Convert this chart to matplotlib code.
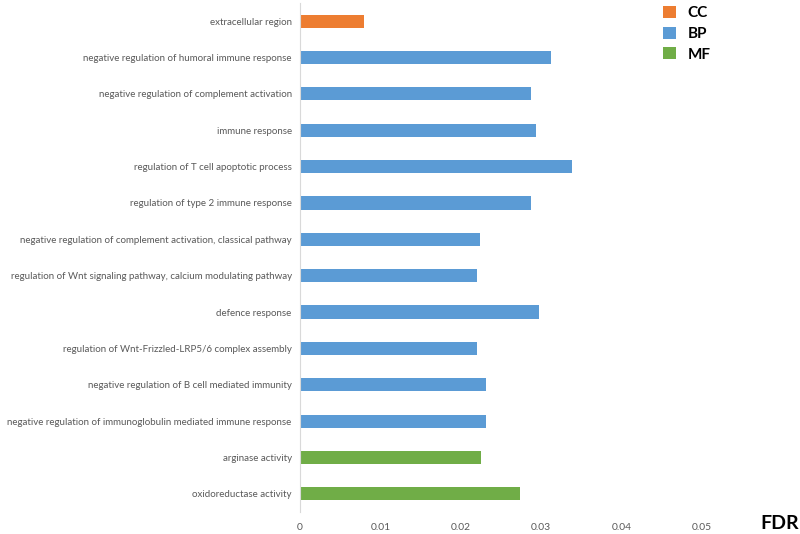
import matplotlib
matplotlib.use("Agg")
import matplotlib.pyplot as plt
from matplotlib.patches import Patch

terms = [
    "extracellular region",
    "negative regulation of humoral immune response",
    "negative regulation of complement activation",
    "immune response",
    "regulation of T cell apoptotic process",
    "regulation of type 2 immune response",
    "negative regulation of complement activation, classical pathway",
    "regulation of Wnt signaling pathway, calcium modulating pathway",
    "defence response",
    "regulation of Wnt-Frizzled-LRP5/6 complex assembly",
    "negative regulation of B cell mediated immunity",
    "negative regulation of immunoglobulin mediated immune response",
    "arginase activity",
    "oxidoreductase activity",
]
fdr = [0.0080, 0.0313, 0.0288, 0.0294, 0.0339, 0.0287, 0.0224,
       0.0220, 0.0297, 0.0220, 0.0231, 0.0231, 0.0225, 0.0274]
category = ["CC"] + ["BP"] * 11 + ["MF"] * 2
cat_names = ["CC", "BP", "MF"]
cat_colors = {"CC": "#ED7D31", "BP": "#5B9BD5", "MF": "#70AD47"}
xticks = [0, 0.01, 0.02, 0.03, 0.04, 0.05]
xticklabels = ["0", "0.01", "0.02", "0.03", "0.04", "0.05"]

plt.rcParams['font.family'] = ['Lato', 'DejaVu Sans']

fig = plt.figure(figsize=(8, 5.34), dpi=100)
ax = fig.add_axes([0.375, 0.0412, 0.877 - 0.375, 0.9944 - 0.0412])

ypos = list(range(len(terms)))
ax.barh(ypos, fdr, height=0.36, color=[cat_colors[c] for c in category])
ax.set_ylim(len(terms) - 0.5, -0.5)
ax.set_xlim(0, 0.05)
ax.set_yticks(ypos)
ax.set_yticklabels(terms, fontsize=7.0, color="#595959")
ax.set_xticks(xticks)
ax.set_xticklabels(xticklabels, fontsize=7.4, color="#595959")
ax.tick_params(axis="both", length=0)
ax.tick_params(axis="y", pad=6)
ax.tick_params(axis="x", pad=8)
for s in ["top", "right", "bottom"]:
    ax.spines[s].set_visible(False)
ax.spines["left"].set_color("#d9d9d9")

fig.text(0.975, 0.02, "FDR", fontsize=14, fontweight="bold", ha="center", va="center")

handles = [Patch(facecolor=cat_colors[c], label=c) for c in cat_names]
fig.legend(handles=handles, loc="upper left", bbox_to_anchor=(0.812, 1.014),
           frameon=False, handlelength=0.8, handleheight=0.8, handletextpad=0.8,
           labelspacing=0.42, prop={"weight": "bold", "size": 11})

fig.savefig("out.png", dpi=100)
